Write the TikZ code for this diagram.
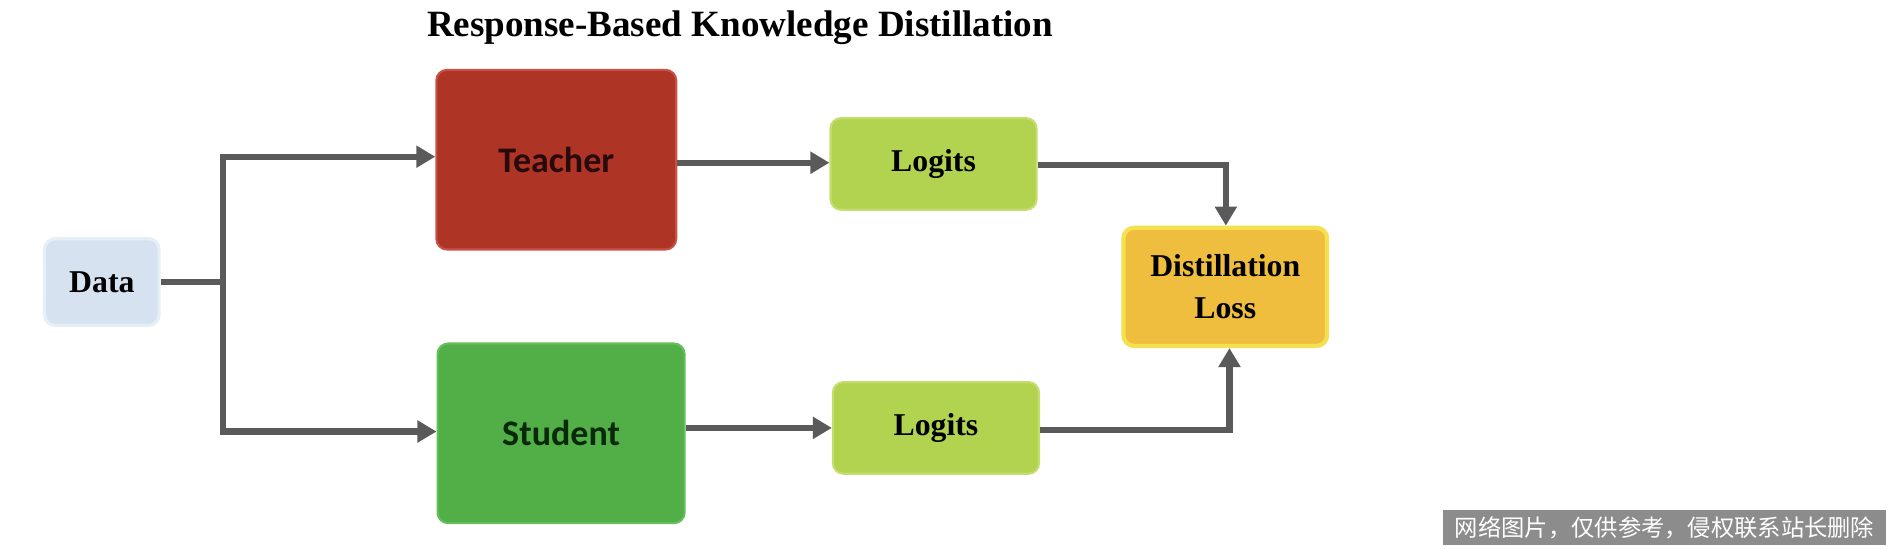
\documentclass[tikz,border=0pt]{standalone}
\usepackage{fontspec}
\setmainfont{Liberation Serif}
\newfontfamily\carl{Carlito}
\newfontfamily\cjk{Noto Sans CJK SC}
\usetikzlibrary{arrows.meta}
\definecolor{arr}{HTML}{5A5A5A}
\definecolor{dataF}{HTML}{D6E2F0}\definecolor{dataD}{HTML}{E6EEF7}
\definecolor{teaF}{HTML}{AE3426}\definecolor{teaD}{HTML}{C85046}
\definecolor{stuF}{HTML}{52AE47}\definecolor{stuD}{HTML}{64BE5A}
\definecolor{logF}{HTML}{B2D34F}\definecolor{logD}{HTML}{C3DE6E}
\definecolor{lossF}{HTML}{F0BE3E}\definecolor{lossD}{HTML}{F5E050}
\definecolor{wmF}{HTML}{8C8C8C}
\begin{document}
\begin{tikzpicture}[x=0.02cm,y=-0.02cm,
  box/.style={rounded corners=5pt,inner sep=0pt,align=center,line width=1pt,font=\bfseries\fontsize{15}{18}\selectfont},
  con/.style={draw=arr,line width=3pt,-{Triangle[length=9pt,width=10pt]}},
  ln/.style={draw=arr,line width=3pt}]
\useasboundingbox (0,0) rectangle (1568,455);
\node[font=\bfseries\fontsize{17.5}{20}\selectfont] (title) at (614,23) {Response-Based Knowledge Distillation};
\node[box,fill=dataF,draw=dataD,line width=1.5pt,minimum width=1.9cm,minimum height=1.44cm] (data) at (84.5,234) {Data};
\node[box,fill=teaF,draw=teaD,minimum width=3.98cm,minimum height=2.98cm,font=\carl\bfseries\fontsize{17}{20}\selectfont,text={rgb,255:red,40;green,10;blue,10}] (teacher) at (461.5,132.5) {Teacher};
\node[box,fill=stuF,draw=stuD,minimum width=4.1cm,minimum height=2.98cm,font=\carl\bfseries\fontsize{17}{20}\selectfont,text={rgb,255:red,10;green,40;blue,10}] (student) at (465.5,359.5) {Student};
\node[box,fill=logF,draw=logD,minimum width=3.42cm,minimum height=1.52cm] (l1) at (774.5,136) {Logits};
\node[box,fill=logF,draw=logD,minimum width=3.42cm,minimum height=1.52cm] (l2) at (776.5,355) {Logits};
\node[box,fill=lossF,draw=lossD,line width=2pt,minimum width=3.38cm,minimum height=1.96cm] (loss) at (1016.5,238) {Distillation\\[2pt]Loss};
% connectors
\coordinate (j) at (185,234);
\coordinate (jt) at (185,130);
\coordinate (js) at (185,358);
\coordinate (c1) at (1017,137);
\coordinate (c2) at (1020,357);
\draw[ln] (data.east |- j) -- (j);
\draw[ln] ([yshift=1.5pt]jt) -- ([yshift=-1.5pt]js);
\draw[con] (jt) -- (jt -| teacher.west);
\draw[con] (js) -- (js -| student.west);
\draw[con] (teacher.east |- 0,135) -- (l1.west |- 0,135);
\draw[con] (student.east |- 0,355) -- (l2.west |- 0,355);
\draw[con] (l1.east |- c1) -- (c1) -- (loss.north -| c1);
\draw[con] (l2.east |- c2) -- (c2) -- (loss.south -| c2);
% watermark
\node[fill=wmF,minimum width=7.36cm,minimum height=0.58cm,inner sep=0pt,font=\cjk\fontsize{11}{13}\selectfont,text=white] (wm) at (1381,437.5) {网络图片，仅供参考，侵权联系站长删除};
\end{tikzpicture}
\end{document}
